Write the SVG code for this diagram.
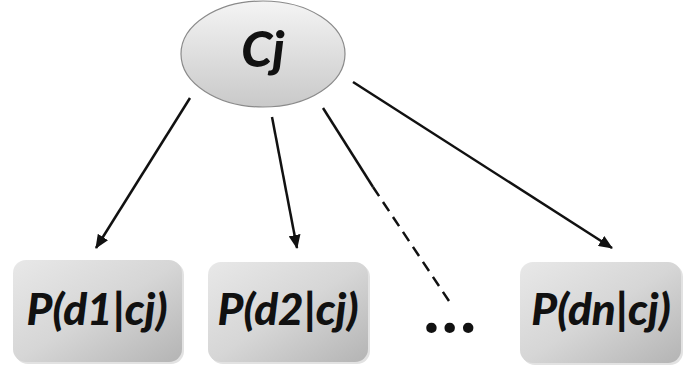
<svg xmlns="http://www.w3.org/2000/svg" width="683" height="367" viewBox="0 0 683 367">
<defs>
<linearGradient id="eg" x1="0" y1="0" x2="0" y2="1">
<stop offset="0" stop-color="#f4f4f4"/>
<stop offset="1" stop-color="#c9c9c9"/>
</linearGradient>
<linearGradient id="bg" x1="0" y1="0" x2="1" y2="1">
<stop offset="0" stop-color="#e8e8e8"/>
<stop offset="0.5" stop-color="#d6d6d6"/>
<stop offset="1" stop-color="#b4b4b4"/>
</linearGradient>
<marker id="ah" viewBox="0 0 14 12" refX="13" refY="6" markerWidth="14" markerHeight="12" markerUnits="userSpaceOnUse" orient="auto">
<path d="M0,0 L14,6 L0,12 Z" fill="#111"/>
</marker>
</defs>
<style>
.lbl{font-family:Lato,"Open Sans","Liberation Sans",sans-serif;font-weight:900;font-style:italic;fill:#111;text-anchor:middle}
.box{fill:url(#bg)}
.shadow{fill:#e2e2e2}
.edge{stroke:#111;stroke-width:2.5;fill:none}
</style>
<rect width="683" height="367" fill="#fff"/>
<g id="connectors">
<line class="edge" x1="190" y1="98" x2="96" y2="248" marker-end="url(#ah)"/>
<line class="edge" x1="272" y1="117" x2="297" y2="248" marker-end="url(#ah)"/>
<line class="edge" x1="323" y1="108" x2="373" y2="187"/>
<line class="edge" x1="373" y1="187" x2="451" y2="304" stroke-dasharray="11,7"/>
<line class="edge" x1="353" y1="82" x2="612" y2="248" marker-end="url(#ah)"/>
</g>
<g id="cj">
<ellipse cx="263" cy="54" rx="82" ry="53" fill="url(#eg)" stroke="#8a8a8a" stroke-width="1.2"/>
<text class="lbl" x="263" y="67" font-size="50">Cj</text>
</g>
<g id="p1">
<rect class="shadow" x="15" y="262" width="169" height="102" rx="13"/>
<rect class="box" x="13" y="260" width="169" height="102" rx="13"/>
<text class="lbl" x="97" y="325" font-size="44">P(d1|cj)</text>
</g>
<g id="p2">
<rect class="shadow" x="210" y="264" width="160" height="100" rx="13"/>
<rect class="box" x="208" y="262" width="160" height="100" rx="13"/>
<text class="lbl" x="288" y="325" font-size="44">P(d2|cj)</text>
</g>
<g id="dots">
<text class="lbl" x="453" y="333" font-size="64" font-style="normal" letter-spacing="3">...</text>
</g>
<g id="pn">
<rect class="shadow" x="522" y="264" width="161" height="101" rx="13"/>
<rect class="box" x="520" y="262" width="161" height="101" rx="13"/>
<text class="lbl" x="601" y="325" font-size="44">P(dn|cj)</text>
</g>
</svg>
